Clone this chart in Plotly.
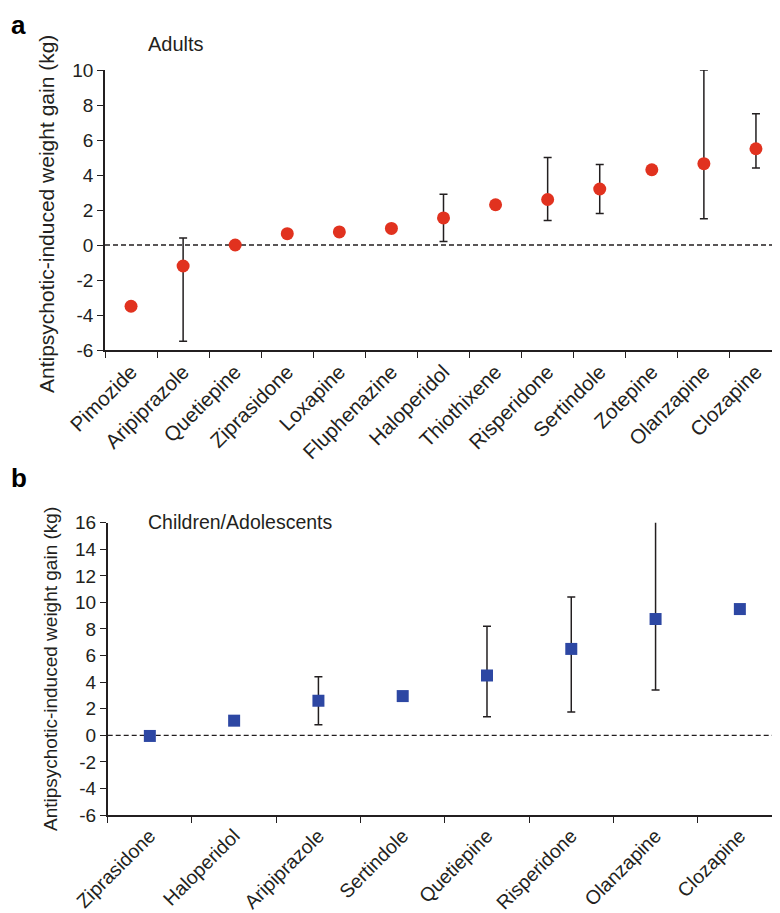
import plotly.graph_objects as go

# ---- Panel a: Adults ----
adult_drugs = ["Pimozide", "Aripiprazole", "Quetiepine", "Ziprasidone", "Loxapine",
               "Fluphenazine", "Haloperidol", "Thiothixene", "Risperidone", "Sertindole",
               "Zotepine", "Olanzapine", "Clozapine"]
adult_mean = [-3.5, -1.2, 0.0, 0.65, 0.75, 0.95, 1.55, 2.3, 2.6, 3.2, 4.3, 4.65, 5.5]
adult_upper = [None, 0.4, None, None, None, None, 2.9, None, 5.0, 4.6, None, 10.0, 7.5]
adult_lower = [None, -5.5, None, None, None, None, 0.2, None, 1.4, 1.8, None, 1.5, 4.4]

# ---- Panel b: Children/Adolescents ----
child_drugs = ["Ziprasidone", "Haloperidol", "Aripiprazole", "Sertindole",
               "Quetiepine", "Risperidone", "Olanzapine", "Clozapine"]
child_mean = [-0.05, 1.1, 2.6, 2.95, 4.5, 6.5, 8.75, 9.5]
child_upper = [None, None, 4.4, None, 8.2, 10.4, 16.2, None]
child_lower = [None, None, 0.8, None, 1.4, 1.75, 3.4, None]

y_ticks_a = [-6, -4, -2, 0, 2, 4, 6, 8, 10]
y_ticks_b = [-6, -4, -2, 0, 2, 4, 6, 8, 10, 12, 14, 16]

RED = "#e1321f"
BLUE = "#2d47a3"
INK = "#231f20"
FONT = "Liberation Sans, Arial, sans-serif"

W, H = 780, 913
OFF = 8  # page body margin offset


def px_x(p):
    return (p - OFF) / W


def px_y(p):
    return 1 - (p - OFF) / H


def err(mean, up, lo):
    plus = [(u - m) if u is not None else 0 for m, u in zip(mean, up)]
    minus = [(m - l) if l is not None else 0 for m, l in zip(mean, lo)]
    return plus, minus


ap, am = err(adult_mean, adult_upper, adult_lower)
cp, cm = err(child_mean, child_upper, child_lower)

fig = go.Figure()

fig.add_trace(go.Scatter(
    x=adult_drugs, y=adult_mean, mode="markers", xaxis="x", yaxis="y",
    marker=dict(symbol="circle", size=13, color=RED),
    error_y=dict(type="data", symmetric=False, array=ap, arrayminus=am,
                 color=INK, thickness=1.5, width=4),
    showlegend=False, cliponaxis=False))

fig.add_trace(go.Scatter(
    x=child_drugs, y=child_mean, mode="markers", xaxis="x2", yaxis="y2",
    marker=dict(symbol="square", size=12, color=BLUE),
    error_y=dict(type="data", symmetric=False, array=cp, arrayminus=cm,
                 color=INK, thickness=1.5, width=4),
    showlegend=False, cliponaxis=False))

# axis geometry in screen pixels
AX_L, AX_R = 105, 782
BX_L, BX_R = 107.7, 782
ya = [px_y(350), px_y(70)]
yb = [px_y(815), px_y(522.7)]
xa = [px_x(AX_L), min(1, px_x(AX_R))]
xb = [px_x(BX_L), min(1, px_x(BX_R))]
a_end = -0.5 + 13 * ((xa[1] * W + OFF) - AX_L) / (AX_R - AX_L)
b_end = -0.5 + 8 * ((xb[1] * W + OFF) - BX_L) / (BX_R - BX_L)

common_x = dict(type="category", tickson="boundaries", ticks="outside", ticklen=6,
                tickwidth=1.2, tickcolor=INK, showline=True, linecolor=INK, linewidth=1.5,
                showgrid=False, zeroline=False, tickangle=-45, automargin=False)
common_y = dict(ticks="outside", ticklen=6, tickwidth=1.2, tickcolor=INK, showline=True,
                linecolor=INK, linewidth=1.5, showgrid=False, zeroline=False,
                automargin=False, tickfont=dict(family=FONT, size=19, color=INK))

fig.update_layout(
    width=W, height=H, margin=dict(l=0, r=0, t=0, b=0),
    paper_bgcolor="white", plot_bgcolor="white",
    font=dict(family=FONT, color=INK),
    xaxis=dict(common_x, domain=xa, anchor="y",
               categoryorder="array", categoryarray=adult_drugs,
               range=[-0.5, a_end],
               tickfont=dict(family=FONT, size=20.5, color=INK)),
    yaxis=dict(common_y, domain=ya, anchor="x", range=[-6, 10], tickvals=y_ticks_a,
               ticktext=[str(v) for v in y_ticks_a]),
    xaxis2=dict(common_x, domain=xb, anchor="y2",
                categoryorder="array", categoryarray=child_drugs,
                range=[-0.5, b_end],
                tickfont=dict(family=FONT, size=19.5, color=INK)),
    yaxis2=dict(common_y, domain=yb, anchor="x2", range=[-6, 16], tickvals=y_ticks_b,
                ticktext=[str(v) for v in y_ticks_b]),
)

# dashed zero lines
fig.add_shape(type="line", xref="x domain", yref="y", x0=0, x1=1, y0=0, y1=0,
              line=dict(color=INK, width=1.3, dash="5px,3px"), layer="below")
fig.add_shape(type="line", xref="x2 domain", yref="y2", x0=0, x1=1, y0=0, y1=0,
              line=dict(color=INK, width=1.3, dash="5px,3px"), layer="below")

ytitle = "Antipsychotic-induced weight gain (kg)"
ann = [
    dict(text="<b>a</b>", x=px_x(9), y=px_y(8), xanchor="left", yanchor="top",
         font=dict(size=26, family=FONT, color="black")),
    dict(text="<b>b</b>", x=px_x(9), y=px_y(461), xanchor="left", yanchor="top",
         font=dict(size=26, family=FONT, color="black")),
    dict(text="Adults", x=px_x(146), y=px_y(44), xanchor="left", yanchor="middle",
         font=dict(size=20, family=FONT, color=INK)),
    dict(text="Children/Adolescents", x=px_x(146), y=px_y(522), xanchor="left",
         yanchor="middle", font=dict(size=19.5, family=FONT, color=INK)),
    dict(text=ytitle, x=px_x(47), y=px_y(214), textangle=-90, xanchor="center",
         yanchor="middle", font=dict(size=21, family=FONT, color=INK)),
    dict(text=ytitle, x=px_x(50), y=px_y(669), textangle=-90, xanchor="center",
         yanchor="middle", font=dict(size=19, family=FONT, color=INK)),
]
for a in ann:
    a.update(xref="paper", yref="paper", showarrow=False)
fig.update_layout(annotations=ann)

fig.write_html("out.html")
